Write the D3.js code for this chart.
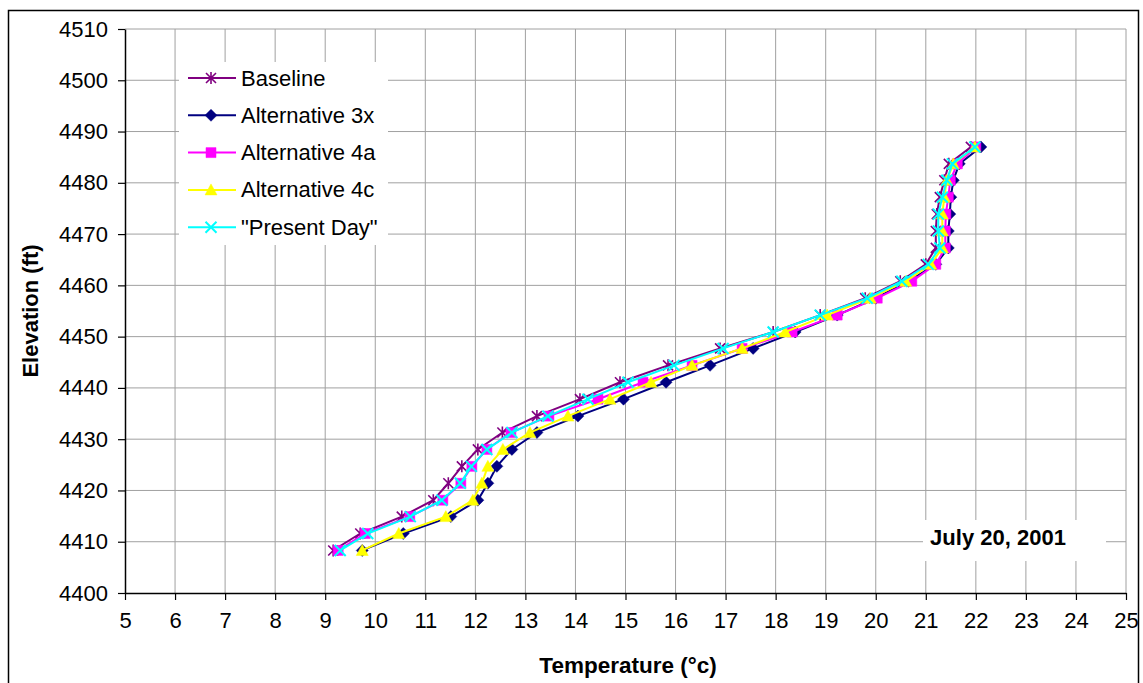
<!DOCTYPE html>
<html>
<head>
<meta charset="utf-8">
<script src="https://cdn.jsdelivr.net/npm/d3@7"></script>
<style>
  html, body { margin: 0; padding: 0; background: #fff; }
  svg { display: block; }
  text { font-family: "Liberation Sans", Arial, sans-serif; fill: #000; }
</style>
</head>
<body>
<svg id="chart" width="1143" height="683"></svg>
<script>
// ---------- data ----------
const elevations = [4408.3, 4411.6, 4414.9, 4418.1, 4421.4, 4424.7, 4428.0, 4431.3, 4434.5, 4437.8,
                    4441.1, 4444.4, 4447.7, 4450.9, 4454.2, 4457.5, 4460.8, 4464.1, 4467.3, 4470.6,
                    4473.9, 4477.2, 4480.5, 4483.7, 4487.0];
const baseline   = [9.16, 9.70, 10.53, 11.16, 11.46, 11.73, 12.05, 12.54, 13.23, 14.09, 14.89, 15.85, 16.89,
                    17.95, 18.89, 19.79, 20.49, 21.00, 21.20, 21.20, 21.22, 21.28, 21.37, 21.46, 21.90];
const alt3x      = [9.74, 10.56, 11.51, 12.05, 12.25, 12.43, 12.73, 13.23, 14.05, 14.96, 15.81, 16.69, 17.55,
                    18.39, 19.23, 20.00, 20.65, 21.20, 21.45, 21.45, 21.48, 21.50, 21.55, 21.67, 22.10];
const alt4a      = [9.26, 9.80, 10.69, 11.35, 11.71, 11.93, 12.23, 12.71, 13.47, 14.45, 15.35, 16.33, 17.33,
                    18.33, 19.23, 20.03, 20.72, 21.20, 21.39, 21.39, 21.40, 21.45, 21.49, 21.63, 22.00];
const alt4c      = [9.74, 10.47, 11.41, 11.95, 12.13, 12.25, 12.55, 13.09, 13.85, 14.69, 15.51, 16.33, 17.33,
                    18.19, 19.03, 19.89, 20.60, 21.10, 21.33, 21.33, 21.33, 21.37, 21.42, 21.55, 21.98];
const presentDay = [9.30, 9.85, 10.70, 11.33, 11.70, 11.92, 12.23, 12.73, 13.45, 14.25, 15.05, 15.97, 16.95,
                    17.95, 18.89, 19.83, 20.52, 21.05, 21.28, 21.25, 21.25, 21.33, 21.42, 21.53, 21.98];
const seriesNames = ["Baseline", "Alternative 3x", "Alternative 4a", "Alternative 4c", "\"Present Day\""];
const xTicks = [5,6,7,8,9,10,11,12,13,14,15,16,17,18,19,20,21,22,23,24,25];
const yTicks = [4400,4410,4420,4430,4440,4450,4460,4470,4480,4490,4500,4510];
const xTitle = "Temperature (°c)";
const yTitle = "Elevation (ft)";
const dateLabel = "July 20, 2001";

// ---------- styles ----------
const seriesValues = [baseline, alt3x, alt4a, alt4c, presentDay];
const colors = ["#800080", "#000080", "#FF00FF", "#FFFF00", "#00FFFF"];
const markers = ["star", "diamond", "square", "triangle", "x"];

const svg = d3.select("#chart");
const pLeft = 125, pRight = 1126, pTop = 29, pBottom = 593;
const x = d3.scaleLinear().domain([5, 25]).range([pLeft, pRight]);
const y = d3.scaleLinear().domain([4400, 4510]).range([pBottom, pTop]);

// outer border
svg.append("rect").attr("x", 8.5).attr("y", 10.5).attr("width", 1130).attr("height", 700)
  .attr("fill", "#fff").attr("stroke", "#000").attr("stroke-width", 1.5);

// gridlines
const grid = svg.append("g");
grid.selectAll("line.v").data(xTicks.slice(1)).join("line")
  .attr("x1", d => x(d)).attr("x2", d => x(d)).attr("y1", pTop).attr("y2", pBottom)
  .attr("stroke", "#a0a0a0").attr("stroke-width", 1);
grid.selectAll("line.h").data(yTicks.slice(1)).join("line")
  .attr("y1", d => y(d)).attr("y2", d => y(d)).attr("x1", pLeft).attr("x2", pRight)
  .attr("stroke", "#a0a0a0").attr("stroke-width", 1);

// axes
const fs = 22;
const xAxis = svg.append("g").attr("transform", `translate(0,${pBottom})`)
  .call(d3.axisBottom(x).tickValues(xTicks).tickFormat(d3.format("d")).tickSize(7).tickSizeOuter(0).tickPadding(12));
const yAxis = svg.append("g").attr("transform", `translate(${pLeft},0)`)
  .call(d3.axisLeft(y).tickValues(yTicks).tickFormat(d3.format("d")).tickSize(7).tickSizeOuter(0).tickPadding(10));
[xAxis, yAxis].forEach(a => {
  a.select(".domain").attr("stroke", "#000").attr("stroke-width", 1.5);
  a.selectAll(".tick line").attr("stroke", "#000").attr("stroke-width", 1.2);
  a.selectAll(".tick text").attr("font-size", fs).attr("font-family", "Liberation Sans, Arial, sans-serif").attr("fill", "#000");
});

// marker drawing
function markerPath(type) {
  switch (type) {
    case "star": return "M-5,-5L5,5M-5,5L5,-5M0,-6L0,6";
    case "diamond": return "M0,-6L6,0L0,6L-6,0Z";
    case "square": return "M-5,-5L5,-5L5,5L-5,5Z";
    case "triangle": return "M0,-6L6,5L-6,5Z";
    case "x": return "M-5.5,-5.5L5.5,5.5M-5.5,5.5L5.5,-5.5";
  }
}
function drawMarker(g, type, color) {
  const filled = (type === "diamond" || type === "square" || type === "triangle");
  g.append("path").attr("d", markerPath(type))
    .attr("fill", filled ? color : "none")
    .attr("stroke", color)
    .attr("stroke-width", filled ? 0.5 : (type === "x" ? 2 : 1.6));
}

// series
const line = d3.line().x(d => x(d[0])).y(d => y(d[1]));
seriesValues.forEach((vals, i) => {
  const pts = vals.map((v, j) => [v, elevations[j]]);
  const g = svg.append("g");
  g.append("path").attr("d", line(pts)).attr("fill", "none")
    .attr("stroke", colors[i]).attr("stroke-width", 2);
  pts.forEach(p => {
    const m = g.append("g").attr("transform", `translate(${x(p[0])},${y(p[1])})`);
    drawMarker(m, markers[i], colors[i]);
  });
});

// legend
const lg = svg.append("g");
lg.append("rect").attr("x", 179).attr("y", 62).attr("width", 209).attr("height", 183).attr("fill", "#fff");
seriesNames.forEach((name, i) => {
  const cy = 78 + i * 37.3;
  lg.append("line").attr("x1", 188).attr("x2", 236).attr("y1", cy).attr("y2", cy)
    .attr("stroke", colors[i]).attr("stroke-width", 2);
  const m = lg.append("g").attr("transform", `translate(211,${cy})`);
  drawMarker(m, markers[i], colors[i]);
  lg.append("text").attr("x", 241).attr("y", cy + 7.5).attr("font-size", fs).text(name);
});

// date label
svg.append("rect").attr("x", 923).attr("y", 520).attr("width", 183).attr("height", 41).attr("fill", "#fff");
svg.append("text").attr("x", 998).attr("y", 545).attr("text-anchor", "middle")
  .attr("font-size", fs).attr("font-weight", "bold").text(dateLabel);

// axis titles
svg.append("text").attr("x", 628).attr("y", 673).attr("text-anchor", "middle")
  .attr("font-size", fs + 0.5).attr("font-weight", "bold").text(xTitle);
svg.append("text").attr("transform", "translate(38,311) rotate(-90)").attr("text-anchor", "middle")
  .attr("font-size", fs).attr("font-weight", "bold").text(yTitle);
</script>
</body>
</html>
